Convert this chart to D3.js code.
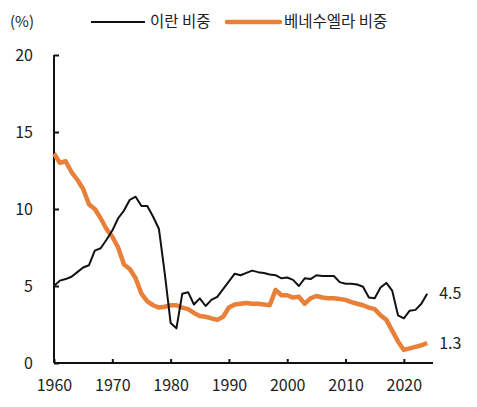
<!DOCTYPE html>
<html>
<head>
<meta charset="utf-8">
<script src="https://cdn.jsdelivr.net/npm/d3@7"></script>
<style>
  body { margin: 0; background: #fff; }
  svg text { font-family: "Noto Sans CJK KR", "Noto Sans", sans-serif; fill: #222; }
</style>
</head>
<body>
<svg id="chart" width="477" height="407"></svg>
<script>
// 연도별 비중 (%)
const years = d3.range(1960, 2025);
const iranShare = [
  5.0, 5.35, 5.45, 5.6, 5.9, 6.2, 6.35, 7.3, 7.45, 8.0,
  8.6, 9.4, 9.9, 10.6, 10.8, 10.2, 10.2, 9.5, 8.7, 5.8,
  2.6, 2.25, 4.5, 4.6, 3.8, 4.2, 3.7, 4.1, 4.3, 4.8,
  5.3, 5.8, 5.7, 5.85, 6.0, 5.9, 5.85, 5.75, 5.7, 5.5,
  5.55, 5.4, 5.0, 5.5, 5.45, 5.7, 5.65, 5.65, 5.65, 5.25,
  5.15, 5.15, 5.1, 4.95, 4.25, 4.2, 4.9, 5.2, 4.7, 3.1,
  2.9, 3.4, 3.45, 3.85, 4.5
];
const venezuelaShare = [
  13.6, 13.0, 13.1, 12.4, 11.9, 11.3, 10.3, 10.0, 9.4, 8.7,
  8.2, 7.5, 6.4, 6.1, 5.5, 4.5, 4.0, 3.75, 3.6, 3.65,
  3.75, 3.75, 3.6, 3.5, 3.25, 3.05, 3.0, 2.9, 2.8, 3.0,
  3.6, 3.8, 3.85, 3.9, 3.85, 3.85, 3.8, 3.75, 4.75, 4.4,
  4.4, 4.25, 4.3, 3.85, 4.2, 4.35, 4.25, 4.2, 4.2, 4.15,
  4.1, 3.95, 3.85, 3.75, 3.6, 3.5, 3.1, 2.8, 2.1, 1.4,
  0.85, 0.95, 1.05, 1.15, 1.3
];
const yTicks = [0, 5, 10, 15, 20];
const xTicks = [1960, 1970, 1980, 1990, 2000, 2010, 2020];
const seriesNames = ["이란 비중", "베네수엘라 비중"];
const seriesColors = ["#111111", "#E8803A"];

const svg = d3.select("#chart");
const margin = { top: 55, right: 44, bottom: 44, left: 54 };
const width = 477 - margin.left - margin.right;
const height = 407 - margin.top - margin.bottom;

const chart = svg.append("g")
  .attr("transform", `translate(${margin.left}, ${margin.top})`);

const x = d3.scaleLinear().domain([1960, 2025]).range([0, width]);
const y = d3.scaleLinear().domain([0, 20]).range([height, 0]);

// y axis, ticks pointing inward
const yAxisG = chart.append("g").attr("class", "y-axis")
  .call(d3.axisRight(y).tickValues(yTicks).tickSize(5).tickFormat(d3.format("d")));
yAxisG.select(".domain").attr("stroke", "#111").attr("stroke-width", 2)
  .attr("d", `M0,${height}V0`);
yAxisG.selectAll(".tick line").attr("stroke", "#111").attr("stroke-width", 2);
yAxisG.selectAll(".tick text")
  .attr("x", -21).attr("text-anchor", "end")
  .style("font-size", "16px");

// x axis, ticks pointing up
const xAxisG = chart.append("g").attr("class", "x-axis")
  .attr("transform", `translate(0, ${height})`)
  .call(d3.axisTop(x).tickValues(xTicks).tickSize(4).tickFormat(d3.format("d")));
xAxisG.select(".domain").attr("stroke", "#111").attr("stroke-width", 2)
  .attr("d", `M0,0H${width}`);
xAxisG.selectAll(".tick line").attr("stroke", "#111").attr("stroke-width", 2);
xAxisG.selectAll(".tick text")
  .attr("y", 22).attr("dy", "0.35em")
  .style("font-size", "16px");

const line = d3.line()
  .x((d, i) => x(years[i]))
  .y((d) => y(d));

chart.append("path")
  .datum(venezuelaShare)
  .attr("fill", "none")
  .attr("stroke", seriesColors[1])
  .attr("stroke-width", 4.5)
  .attr("stroke-linejoin", "round")
  .attr("d", line);

chart.append("path")
  .datum(iranShare)
  .attr("fill", "none")
  .attr("stroke", seriesColors[0])
  .attr("stroke-width", 2)
  .attr("stroke-linejoin", "round")
  .attr("d", line);

// end labels
[iranShare, venezuelaShare].forEach((s) => {
  const last = s[s.length - 1];
  chart.append("text")
    .attr("x", x(years[years.length - 1]) + 12)
    .attr("y", y(last))
    .attr("dy", "0.35em")
    .style("font-size", "16px")
    .text(d3.format(".1f")(last));
});

// unit + legend
svg.append("text")
  .attr("x", 10).attr("y", 22).attr("dy", "0.35em")
  .style("font-size", "15px")
  .text("(%)");

const legendItems = [
  { x1: 91, x2: 145, tx: 150, w: 2 },
  { x1: 227, x2: 280, tx: 284, w: 4.5 },
];
legendItems.forEach((item, i) => {
  svg.append("line")
    .attr("x1", item.x1).attr("x2", item.x2)
    .attr("y1", 22).attr("y2", 22)
    .attr("stroke", seriesColors[i])
    .attr("stroke-width", item.w)
    .attr("stroke-linecap", i === 1 ? "round" : "butt");
  svg.append("text")
    .attr("x", item.tx).attr("y", 22).attr("dy", "0.35em")
    .style("font-size", "15.5px")
    .text(seriesNames[i]);
});
</script>
</body>
</html>
